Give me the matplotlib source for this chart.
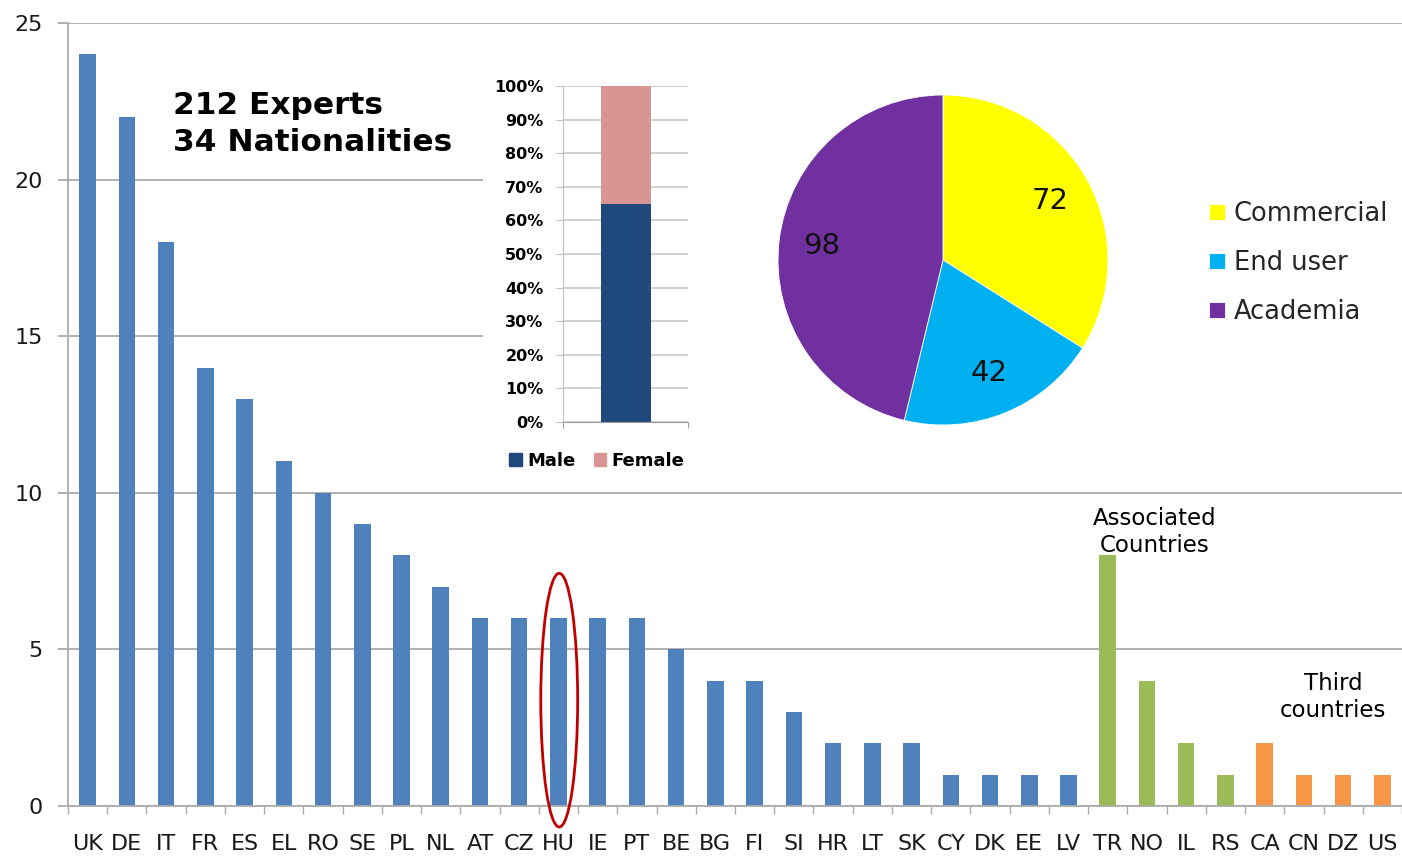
import numpy as np
import matplotlib
matplotlib.use('Agg')
import matplotlib.pyplot as plt
from matplotlib.patches import Rectangle, Ellipse, Patch

# --- data ---
countries = ['UK', 'DE', 'IT', 'FR', 'ES', 'EL', 'RO', 'SE', 'PL', 'NL', 'AT', 'CZ',
             'HU', 'IE', 'PT', 'BE', 'BG', 'FI', 'SI', 'HR', 'LT', 'SK', 'CY', 'DK',
             'EE', 'LV', 'TR', 'NO', 'IL', 'RS', 'CA', 'CN', 'DZ', 'US']
experts = [24, 22, 18, 14, 13, 11, 10, 9, 8, 7, 6, 6,
           6, 6, 6, 5, 4, 4, 3, 2, 2, 2, 1, 1,
           1, 1, 8, 4, 2, 1, 2, 1, 1, 1]
groups = ['EU'] * 26 + ['Associated'] * 4 + ['Third'] * 4

gender_labels = ['Male', 'Female']
gender_share = [65, 35]

sector_labels = ['Commercial', 'End user', 'Academia']
sector_counts = [72, 42, 98]

group_colors = {'EU': '#4F81BD', 'Associated': '#9BBB59', 'Third': '#F79646'}
gender_colors = ['#1F497D', '#D99594']
sector_colors = ['#FFFF00', '#00B0F0', '#7030A0']

W, H = 1402, 856
fig = plt.figure(figsize=(W / 100, H / 100), dpi=100)
fig.patch.set_facecolor('white')

# --- main bar chart ---
ax = fig.add_axes([68 / W, 50 / H, (W - 68) / W, 783 / H])
x = np.arange(len(countries))
ax.bar(x, experts, width=0.42, color=[group_colors[g] for g in groups], zorder=2)
ax.set_xlim(-0.5, len(countries) - 0.5)
ax.set_ylim(0, 25)
ax.set_yticks(range(0, 26, 5))
ax.yaxis.grid(True, color='#ABABAB', lw=1.3)
ax.set_axisbelow(True)
for s in ['top', 'right']:
    ax.spines[s].set_visible(False)
ax.spines['left'].set_color('#ABABAB')
ax.spines['bottom'].set_color('#ABABAB')
ax.spines['left'].set_linewidth(1.3)
ax.spines['bottom'].set_linewidth(1.3)
ax.tick_params(axis='y', length=7, color='#ABABAB', width=1.3, pad=11,
               labelsize=16, labelcolor='#1a1a1a')
ax.set_xticks(np.arange(-0.5, len(countries), 1))
ax.set_xticklabels([])
ax.set_xticks(x, minor=True)
ax.set_xticklabels(countries, minor=True)
ax.tick_params(axis='x', which='major', length=6, color='#ABABAB', width=1)
ax.tick_params(axis='x', which='minor', length=0, pad=20, labelsize=16,
               labelcolor='#1a1a1a')

ax.add_patch(Ellipse((12.02, 3.38), 0.94, 8.1, fill=False, edgecolor='#C00000',
                     lw=2, clip_on=False, zorder=5))

ax.text(27.2, 8.75, 'Associated\nCountries', ha='center', va='center',
        fontsize=16.5, linespacing=1.2)
ax.text(31.75, 3.48, 'Third\ncountries', ha='center', va='center',
        fontsize=16.5, linespacing=1.2)
fig.text(173 / W, 1 - 124 / H, '212 Experts\n34 Nationalities', ha='left',
         va='center', fontsize=22.5, fontweight='bold', linespacing=1.33)

# white background behind the two insets
fig.add_artist(Rectangle((483 / W, 1 - 480 / H), (W - 483) / W, 450 / H,
                         transform=fig.transFigure, facecolor='white',
                         edgecolor='none', zorder=1))

# --- gender inset ---
ax2 = fig.add_axes([563 / W, 1 - 422 / H, 125 / W, 336 / H], zorder=2)
ax2.patch.set_alpha(0)
ax2.bar(0, gender_share[0], 0.4, color=gender_colors[0], zorder=2)
ax2.bar(0, gender_share[1], 0.4, bottom=gender_share[0], color=gender_colors[1], zorder=2)
ax2.set_xlim(-0.5, 0.5)
ax2.set_ylim(0, 100)
ax2.set_yticks(range(0, 101, 10))
ax2.set_yticklabels([f'{v}%' for v in range(0, 101, 10)], fontweight='bold')
ax2.yaxis.grid(True, color='#C8C8C8', lw=1.2)
ax2.set_axisbelow(True)
for s in ['top', 'right']:
    ax2.spines[s].set_visible(False)
ax2.spines['left'].set_color('#C0C0C0')
ax2.spines['bottom'].set_color('#A0A0A0')
ax2.tick_params(axis='y', length=5, color='#C0C0C0', pad=9, labelsize=11.5)
ax2.set_xticks([-0.5, 0.5])
ax2.set_xticklabels([])
ax2.tick_params(axis='x', length=4, color='#A0A0A0')
fig.legend([Patch(color=c) for c in gender_colors], gender_labels,
           loc='center', bbox_to_anchor=(597 / W, 1 - 461 / H), ncol=2,
           frameon=False, prop={'weight': 'bold', 'size': 13},
           handlelength=0.7, handleheight=0.7, handletextpad=0.3,
           columnspacing=1.0)

# --- sector pie ---
total = sum(sector_counts)
ax3 = fig.add_axes([778 / W, 431 / H, 330 / W, 330 / H], zorder=2)
wedges, _, autotexts = ax3.pie(sector_counts, colors=sector_colors, startangle=90,
                               counterclock=False, radius=1,
                               autopct=lambda p: f'{p * total / 100:.0f}',
                               pctdistance=0.74,
                               wedgeprops=dict(edgecolor='white', linewidth=0.6),
                               textprops=dict(fontsize=21, color='#111111'))
ax3.set_xlim(-1, 1)
ax3.set_ylim(-1, 1)
fig.legend(wedges, sector_labels, loc='upper left',
           bbox_to_anchor=(1186 / W, 1 - 178 / H), frameon=False, fontsize=18.5,
           handlelength=0.6, handleheight=0.6, handletextpad=0.35,
           labelspacing=0.9, labelcolor='#262626')

fig.savefig('out.png', dpi=100)
